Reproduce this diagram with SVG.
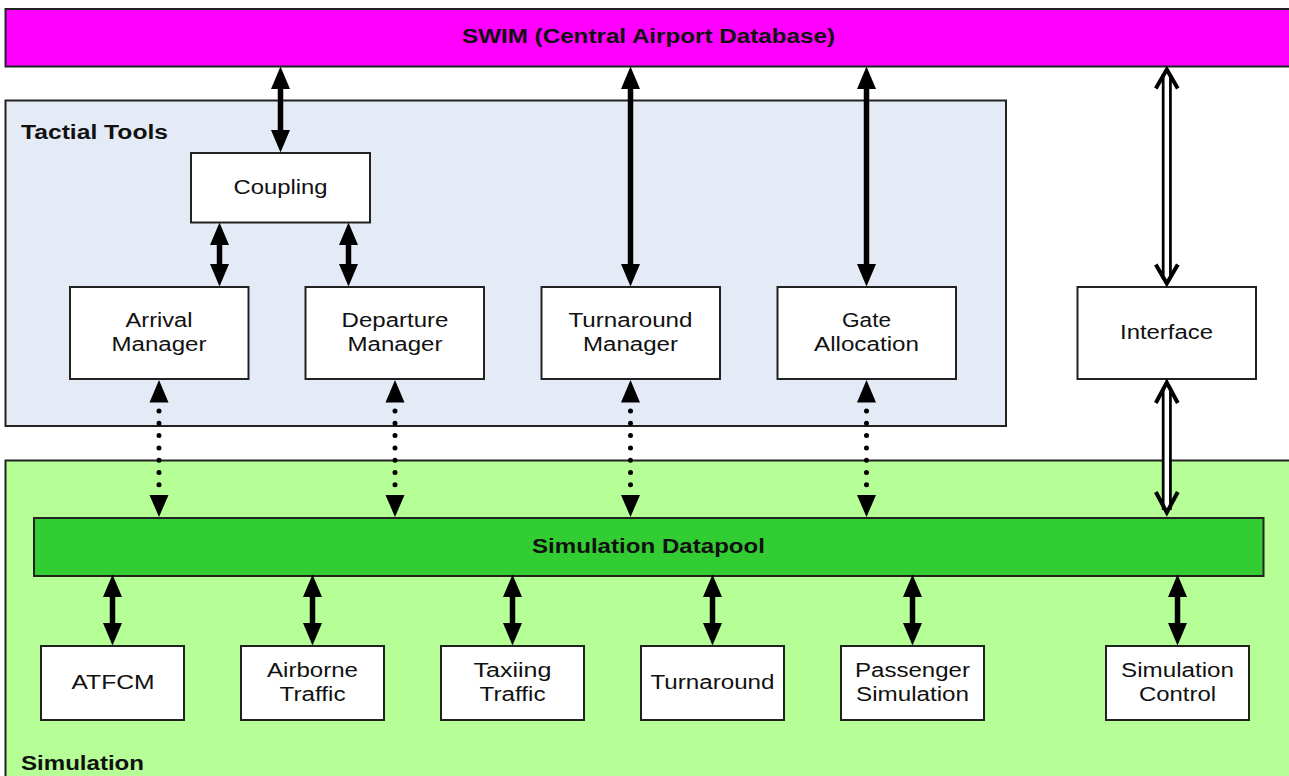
<svg xmlns="http://www.w3.org/2000/svg" width="1289" height="776" viewBox="0 0 1289 776">
<style>
text{font-family:"Liberation Sans",Arial,sans-serif;font-size:19.5px;fill:#111;text-anchor:middle}
.b{font-weight:bold}
.l{text-anchor:start}
.box{fill:#fff;stroke:#222;stroke-width:2}
.band{stroke:#222;stroke-width:2}
.s{stroke:#000;stroke-width:5.500;fill:none}
.d{stroke:#000;stroke-width:5;stroke-linecap:round;stroke-dasharray:0 12.3;fill:none}
.ho{stroke:#000;stroke-width:10;fill:none}
.hi{stroke:#fff;stroke-width:4.500;fill:none}
.ch{stroke:#000;stroke-width:4;fill:none}
</style>
<defs>
<marker id="a" markerUnits="userSpaceOnUse" markerWidth="23" markerHeight="20" refX="0" refY="10" orient="auto-start-reverse" viewBox="0 0 23 20"><path d="M0 0.500L22.500 10L0 19.500Z" fill="#000"/></marker>
</defs>
<rect width="1289" height="776" fill="#fff"/>
<g id="swim"><rect class="band" x="5.500" y="9" width="1290" height="57.500" fill="#ff00ff"/><text class="b" x="648.500" y="43" textLength="373" lengthAdjust="spacingAndGlyphs">SWIM (Central Airport Database)</text></g>
<g id="tactical-tools"><rect class="band" x="5.500" y="100.500" width="1000.500" height="325.500" fill="#e4ebf7"/><text class="b l" x="21" y="139" textLength="147" lengthAdjust="spacingAndGlyphs">Tactial Tools</text></g>
<g id="simulation"><rect class="band" x="5.500" y="460.500" width="1290" height="330" fill="#b5ff96"/><text class="b l" x="21" y="770" textLength="123" lengthAdjust="spacingAndGlyphs">Simulation</text></g>
<g id="datapool"><rect class="band" x="34" y="518" width="1229.500" height="58" fill="#32cd32"/><text class="b" x="648.500" y="553" textLength="233" lengthAdjust="spacingAndGlyphs">Simulation Datapool</text></g>
<g id="coupling"><rect class="box" x="191" y="153" width="179" height="69.500"/><text x="280.500" y="194" textLength="94" lengthAdjust="spacingAndGlyphs">Coupling</text></g>
<g id="arrival-manager"><rect class="box" x="70" y="287" width="178.500" height="92"/><text x="159" y="327" textLength="67" lengthAdjust="spacingAndGlyphs">Arrival</text><text x="159" y="351" textLength="95" lengthAdjust="spacingAndGlyphs">Manager</text></g>
<g id="departure-manager"><rect class="box" x="305.500" y="287" width="178.500" height="92"/><text x="395" y="327" textLength="107" lengthAdjust="spacingAndGlyphs">Departure</text><text x="395" y="351" textLength="95" lengthAdjust="spacingAndGlyphs">Manager</text></g>
<g id="turnaround-manager"><rect class="box" x="541.500" y="287" width="178.500" height="92"/><text x="630.500" y="327" textLength="124" lengthAdjust="spacingAndGlyphs">Turnaround</text><text x="630.500" y="351" textLength="95" lengthAdjust="spacingAndGlyphs">Manager</text></g>
<g id="gate-allocation"><rect class="box" x="777.500" y="287" width="178.500" height="92"/><text x="866.500" y="327" textLength="49" lengthAdjust="spacingAndGlyphs">Gate</text><text x="866.500" y="351" textLength="105" lengthAdjust="spacingAndGlyphs">Allocation</text></g>
<g id="interface"><rect class="box" x="1077.500" y="287" width="178.500" height="92"/><text x="1166.500" y="339" textLength="93" lengthAdjust="spacingAndGlyphs">Interface</text></g>
<g id="atfcm"><rect class="box" x="41" y="646" width="143" height="74"/><text x="113" y="689" textLength="83" lengthAdjust="spacingAndGlyphs">ATFCM</text></g>
<g id="airborne-traffic"><rect class="box" x="241" y="646" width="143" height="74"/><text x="312.500" y="677" textLength="91" lengthAdjust="spacingAndGlyphs">Airborne</text><text x="312.500" y="701" textLength="66" lengthAdjust="spacingAndGlyphs">Traffic</text></g>
<g id="taxiing-traffic"><rect class="box" x="441" y="646" width="143" height="74"/><text x="512.500" y="677" textLength="78" lengthAdjust="spacingAndGlyphs">Taxiing</text><text x="512.500" y="701" textLength="66" lengthAdjust="spacingAndGlyphs">Traffic</text></g>
<g id="turnaround"><rect class="box" x="641" y="646" width="143" height="74"/><text x="712.500" y="689" textLength="124" lengthAdjust="spacingAndGlyphs">Turnaround</text></g>
<g id="passenger-simulation"><rect class="box" x="841" y="646" width="143" height="74"/><text x="912.500" y="677" textLength="115" lengthAdjust="spacingAndGlyphs">Passenger</text><text x="912.500" y="701" textLength="113" lengthAdjust="spacingAndGlyphs">Simulation</text></g>
<g id="simulation-control"><rect class="box" x="1106" y="646" width="143" height="74"/><text x="1177.500" y="677" textLength="113" lengthAdjust="spacingAndGlyphs">Simulation</text><text x="1177.500" y="701" textLength="77" lengthAdjust="spacingAndGlyphs">Control</text></g>
<g id="connectors">
<path class="s" d="M280.500 89V130" marker-start="url(#a)" marker-end="url(#a)"/>
<path class="s" d="M219.500 245V264" marker-start="url(#a)" marker-end="url(#a)"/>
<path class="s" d="M348.500 245V264" marker-start="url(#a)" marker-end="url(#a)"/>
<path class="s" d="M630.500 89V264" marker-start="url(#a)" marker-end="url(#a)"/>
<path class="s" d="M866.500 89V264" marker-start="url(#a)" marker-end="url(#a)"/>
<path class="s" d="M112.500 597V623" marker-start="url(#a)" marker-end="url(#a)"/>
<path class="s" d="M312.500 597V623" marker-start="url(#a)" marker-end="url(#a)"/>
<path class="s" d="M512.500 597V623" marker-start="url(#a)" marker-end="url(#a)"/>
<path class="s" d="M712.500 597V623" marker-start="url(#a)" marker-end="url(#a)"/>
<path class="s" d="M912.500 597V623" marker-start="url(#a)" marker-end="url(#a)"/>
<path class="s" d="M1177.500 597V623" marker-start="url(#a)" marker-end="url(#a)"/>
<path fill="#000" d="M159 380L168.500 402.500H149.500ZM159 517L168.500 495H149.500ZM395 380L404.500 402.500H385.500ZM395 517L404.500 495H385.500ZM630.500 380L640 402.500H621ZM630.500 517L640 495H621ZM866.500 380L876 402.500H857ZM866.500 517L876 495H857Z"/>
<path class="d" d="M159 411V487"/>
<path class="d" d="M395 411V487"/>
<path class="d" d="M630.500 411V487"/>
<path class="d" d="M866.500 411V487"/>
<path class="ho" d="M1166.800 74V279"/>
<path class="hi" d="M1166.800 73V280"/>
<path class="ch" d="M1155.800 88.500L1166.800 69.500L1177.800 88.500M1155.800 264.500L1166.800 283.500L1177.800 264.500"/>
<path class="ho" d="M1166.800 387V510"/>
<path class="hi" d="M1166.800 386V511"/>
<path class="ch" d="M1155.800 403L1166.800 382.500L1177.800 403M1155.800 492L1166.800 512.500L1177.800 492"/>
</g>
</svg>
